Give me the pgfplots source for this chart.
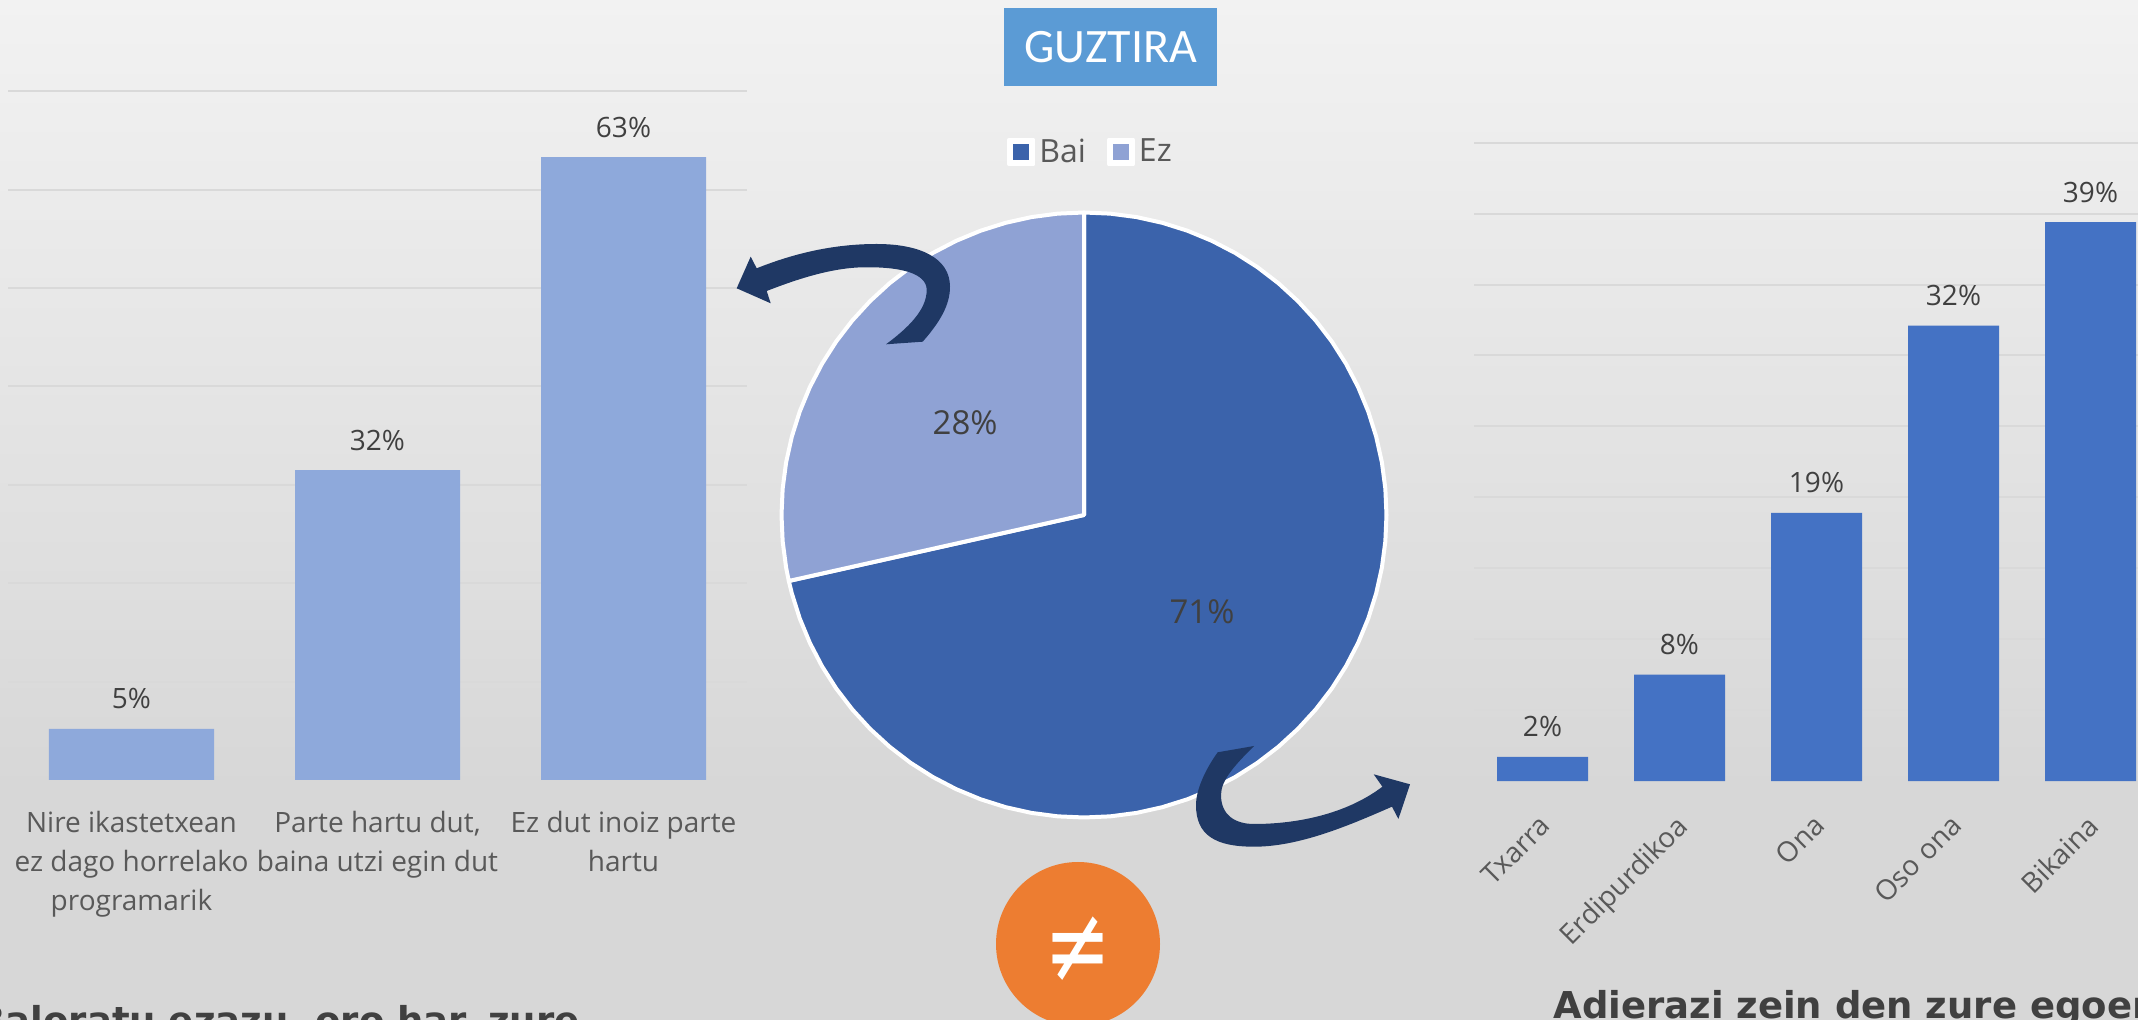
\documentclass[border=0pt]{standalone}
\usepackage{fontspec}
\setmainfont{Open Sans}
\newfontfamily\calib{Carlito}
\newfontfamily\titlef{DejaVu Sans}
\usepackage{pgfplots}
\pgfplotsset{compat=1.18}
\definecolor{gridc}{HTML}{D9D9D9}
\definecolor{leftbar}{HTML}{8EA9DB}
\definecolor{rightbar}{HTML}{4472C4}
\definecolor{piea}{HTML}{3B63AB}
\definecolor{pieb}{HTML}{8FA2D4}
\definecolor{arrowc}{HTML}{1F3864}
\definecolor{tickc}{HTML}{595959}
\definecolor{valc}{HTML}{404040}
\definecolor{titlec}{HTML}{404040}
\pgfplotsset{
  barchart/.style={
    scale only axis, ybar, ymin=0,
    axis line style={draw=none}, tick style={draw=none},
    ymajorgrids, grid style={color=gridc, line width=1pt},
    yticklabel=\empty, xtick=data,
    point meta=y,
    /pgf/number format/assume math mode=true,
    nodes near coords={\pgfmathprintnumber[fixed,precision=0]{\pgfplotspointmeta}\%},
    every node near coord/.append style={font=\fontsize{14}{17}\selectfont, text=valc, yshift=6.3pt},
    ticklabel style={font=\fontsize{14}{19.3}\selectfont, text=tickc},
  }
}
\begin{document}
\begin{tikzpicture}
\begin{scope}
\clip (0,0) rectangle (1069pt,-510pt);
\begin{scope}[x=0.5pt,y=-0.5pt]
\fill[color={rgb,255:red,215;green,215;blue,215}] (0,780) rectangle (2138,1020);
\shade[top color={rgb,255:red,242;green,242;blue,242}, bottom color={rgb,255:red,215;green,215;blue,215}, draw=none] (0,0) rectangle (2138,790);
\end{scope}

% left bars
\begin{axis}[barchart, at={(4.25pt,-390pt)}, anchor=south west,
  width=369pt, height=344.4pt, xmin=-0.5, xmax=2.5, ymax=70,
  ytick={10,20,30,40,50,60,70}, bar width=82.5pt,
  xticklabels={{Nire ikastetxean\\ez dago horrelako\\programarik},{Parte hartu dut,\\baina utzi egin dut},{Ez dut inoiz parte\\hartu}},
  xticklabel style={align=center, anchor=north, yshift=-8pt}]
\addplot[fill=leftbar, draw=none] coordinates {(0,5.2) (1,31.5) (2,63.3)};
\end{axis}

% right bars
\begin{axis}[barchart, at={(737pt,-390.5pt)}, anchor=south west,
  width=342.5pt, height=319.15pt, xmin=-0.5, xmax=4.5, ymax=45,
  ytick={5,10,15,20,25,30,35,40,45}, bar width=45.5pt,
  xticklabels={Txarra,Erdipurdikoa,Ona,Oso ona,Bikaina},
  xticklabel style={rotate=45, anchor=north east, xshift=-6.5pt, yshift=-3.2pt}]
\addplot[fill=rightbar, draw=none] coordinates {(0,1.7) (1,7.5) (2,18.9) (3,32.1) (4,39.4)};
\end{axis}

% pie
\begin{axis}[at={(542pt,-257.5pt)}, anchor=center, scale only axis,
  width=302.5pt, height=302.5pt, xmin=-1, xmax=1, ymin=-1, ymax=1, hide axis, clip=false,
  legend columns=2,
  legend style={draw=none, fill=none, at={(0.5125,1.10)}, anchor=center,
    font=\fontsize{16}{19}\selectfont, text=tickc,
    /tikz/every even column/.append style={column sep=8.5pt}},
  legend image code/.code={
    \fill[white] (0pt,-6.2pt) rectangle (12pt,6.2pt);
    \fill[#1,draw=none,line width=0pt] (2pt,-4.2pt) rectangle (10pt,4.2pt);
  }]
\addplot[data cs=polar, fill=piea, draw=white, line width=2pt, line join=round] coordinates {
 (0,0) (90,1) (85,1) (80,1) (75,1) (70,1) (65,1) (60,1) (55,1) (50,1) (45,1) (40,1) (35,1) (30,1) (25,1) (20,1) (15,1) (10,1) (5,1)
 (0,1) (-5,1) (-10,1) (-15,1) (-20,1) (-25,1) (-30,1) (-35,1) (-40,1) (-45,1) (-50,1) (-55,1) (-60,1) (-65,1) (-70,1) (-75,1) (-80,1) (-85,1)
 (-90,1) (-95,1) (-100,1) (-105,1) (-110,1) (-115,1) (-120,1) (-125,1) (-130,1) (-135,1) (-140,1) (-145,1) (-150,1) (-155,1) (-160,1) (-165,1) (-167.4,1)
} -- cycle;
\addlegendentry{Bai}
\addplot[data cs=polar, fill=pieb, draw=white, line width=2pt, line join=round] coordinates {
 (0,0) (-167.4,1) (-170,1) (-175,1) (-180,1) (-185,1) (-190,1) (-195,1) (-200,1) (-205,1) (-210,1) (-215,1) (-220,1) (-225,1) (-230,1) (-235,1) (-240,1) (-245,1) (-250,1) (-255,1) (-260,1) (-265,1) (-270,1)
} -- cycle;
\addlegendentry{Ez}
\node[font=\fontsize{16.5}{19}\selectfont, text=valc] at (axis cs:-0.393,0.304) {28\%};
\node[font=\fontsize{16.5}{19}\selectfont, text=valc] at (axis cs:0.39,-0.320) {71\%};
\end{axis}

\begin{scope}[x=0.5pt,y=-0.5pt]
% arrows
\fill[arrowc] (886,344.3) -- (922.7,341.7)
  .. controls (940,322) and (950,305) .. (950,286.7)
  .. controls (950,258) and (920,244) .. (876.7,244)
  .. controls (830,244) and (790,255) .. (756.7,268.3)
  -- (750.7,256.7) -- (736.7,288.3) -- (770.7,303.3) -- (766.7,291)
  .. controls (800,278) and (835,267) .. (866.7,267.3)
  .. controls (900,267) and (926.7,273) .. (926.7,290)
  .. controls (926.7,310) and (908,328) .. (886,344.3) -- cycle;
\fill[arrowc] (1217.7,752.3) -- (1254,746)
  .. controls (1235,765) and (1221,780) .. (1221,795)
  .. controls (1221,815) and (1235,824) .. (1254,824)
  .. controls (1295,824) and (1345,815) .. (1382.4,786.7)
  -- (1373.7,774.3) -- (1410,784.3) -- (1398.4,819) -- (1392,806.7)
  .. controls (1350,825) and (1300,846.7) .. (1254,846.7)
  .. controls (1215,846.7) and (1196,835) .. (1196,805)
  .. controls (1196,790) and (1205,770) .. (1217.7,752.3) -- cycle;
% title box
\fill[color={rgb,255:red,91;green,155;blue,213}] (1004,8) rectangle (1217,86);
\node[text=white, font=\calib\fontsize{24}{29}\selectfont, inner sep=0pt] at (1110.5,47) {GUZTIRA};
% orange circle
\fill[color={rgb,255:red,237;green,125;blue,49}] (1078,944) circle [radius=82];
\node[text=white, font=\titlef\fontsize{40}{48}\selectfont, inner sep=0pt, yscale=1.35] at (1078,950) {≠};
% bottom titles
\node[anchor=base east, inner sep=0pt, text=titlec, font=\titlef\bfseries\fontsize{18.5}{22}\selectfont] at (580,1034) {Baloratu ezazu, oro har, zure};
\node[anchor=base west, inner sep=0pt, text=titlec, font=\titlef\bfseries\fontsize{18.5}{22}\selectfont] at (1553,1019) {Adierazi zein den zure egoera};
\end{scope}
\end{scope}
\pgfresetboundingbox
\useasboundingbox (0,0) rectangle (1069pt,-510pt);
\end{tikzpicture}
\end{document}
